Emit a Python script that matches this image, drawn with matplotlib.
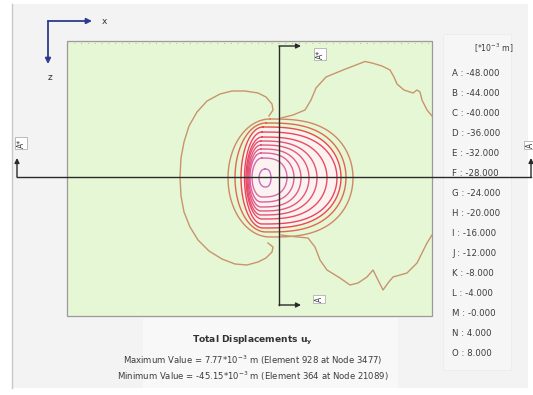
import numpy as np
import matplotlib
matplotlib.use("Agg")
import matplotlib.pyplot as plt
from matplotlib.patches import Rectangle, Polygon

# ---------------------------------------------------------------- data
legend_letters = list("ABCDEFGHIJKLMNO")
legend_values = [-48.0, -44.0, -40.0, -36.0, -32.0, -28.0, -24.0, -20.0,
                 -16.0, -12.0, -8.0, -4.0, -0.0, 4.0, 8.0]

# closed displacement contours around the loaded zone (levels B..L, 1e-3 m)
ring_levels = [-44, -40, -36, -32, -28, -24, -20, -16, -12, -8, -4]
ring_left   = [259, 252, 250, 249, 248, 247, 246, 244.5, 241, 235, 228]
ring_right  = [271, 287, 294, 301, 309, 317, 327, 337, 341, 346, 353]
ring_top    = [169, 158, 153, 149, 145, 141, 137, 132, 127, 123, 119]
ring_bottom = [187, 197, 202, 207, 211, 215, 219, 224, 228, 232, 237]
ring_xpeak  = [265, 262, 261, 261, 261, 261, 262, 262, 263, 266, 270]
ring_colors = ['#c060b8', '#d35a9e', '#da5090', '#de4a80', '#e14672',
               '#e34064', '#e53a56', '#e6344a', '#e8383a', '#de5a42', '#d07a58']

# zero-displacement contour (level M), left lobe
zero_left_x = [269, 273, 272, 266, 258, 245, 232, 220, 207, 197, 189, 184,
               181, 180, 181, 184, 190, 198, 209, 222, 235, 247, 258, 266,
               272, 273, 268]
zero_left_z = [116, 110, 104, 97, 93, 91, 91, 94, 101, 112, 126, 142,
               158, 177, 196, 212, 227, 240, 251, 259, 264, 265, 262, 258,
               252, 247, 243]
# level M, upper right branch
zero_upper_x = [281, 293, 305, 311, 316, 326, 343, 356, 365, 372, 382, 390,
                394, 397, 404, 413, 417, 420, 422, 427, 432]
zero_upper_z = [118, 115, 110, 100, 88, 77, 70, 65, 61.5, 63, 66, 70,
                77, 84, 90, 93, 90, 92, 100, 110, 116]
# level M, lower right branch
zero_lower_x = [281, 293, 308, 315, 320, 327, 340, 350, 358, 367, 373, 378,
                383, 388, 393, 407, 417, 422, 427, 432]
zero_lower_z = [235, 236.5, 238, 247, 260, 270, 278, 285, 283, 277, 270, 280,
                290, 283, 277, 273, 263, 253, 243, 235]

# ---------------------------------------------------------------- figure
W, H = 533, 395
fig = plt.figure(figsize=(W / 100, H / 100), dpi=100)
fig.patch.set_facecolor('white')
ax = fig.add_axes([0, 0, 1, 1])
ax.set_xlim(0, W)
ax.set_ylim(H, 0)
ax.axis('off')

FONT = 'DejaVu Sans'
TXT = '#3c3c3c'

# window panel
ax.add_patch(Rectangle((12, 4), 516, 384, facecolor='#f3f3f3',
                       edgecolor='none', zorder=0))
ax.plot([12, 12], [4, 388], color='#c8c8c8', lw=1.0, zorder=1)
ax.add_patch(Rectangle((143, 318), 255, 70, facecolor='#f8f8f8',
                       edgecolor='none', zorder=1))
ax.add_patch(Rectangle((443, 34), 68, 336, facecolor='#f6f6f6',
                       edgecolor='#ebebeb', lw=0.5, zorder=1))

# model area
gx0, gy0, gx1, gy1 = 67, 41, 432, 316
ax.add_patch(Rectangle((gx0, gy0), gx1 - gx0, gy1 - gy0,
                       facecolor='#e6f7d6', edgecolor='#9a9a9a', lw=0.9,
                       zorder=2))
ax.plot([gx0, gx1], [gy0 + 1.5, gy0 + 1.5], color='#b4b4b4', lw=0.7,
        ls=(0, (1, 6)), zorder=2)


def egg(xpeak, cy, left, right, ry, n=120):
    t = np.linspace(-np.pi / 2, np.pi / 2, n)
    c = np.cos(t)
    xr = xpeak + (right - xpeak) * np.sign(c) * np.abs(c) ** 0.7
    yr = cy + ry * np.sin(t)
    t2 = np.linspace(np.pi / 2, 3 * np.pi / 2, n)
    xl = xpeak + (xpeak - left) * np.cos(t2)
    yl = cy + ry * np.sin(t2)
    return np.r_[xr, xl], np.r_[yr, yl]


# pale interior of the strongly displaced zone
i_in = ring_levels.index(-12)
ex, ey = egg(ring_xpeak[i_in], (ring_top[i_in] + ring_bottom[i_in]) / 2,
             ring_left[i_in], ring_right[i_in],
             (ring_bottom[i_in] - ring_top[i_in]) / 2)
ax.add_patch(Polygon(np.c_[ex, ey], closed=True, facecolor='#fcf3f1',
                     edgecolor='none', zorder=3))

for lev, l, r, t, b, xp, col in zip(ring_levels, ring_left, ring_right,
                                    ring_top, ring_bottom, ring_xpeak,
                                    ring_colors):
    ex, ey = egg(xp, (t + b) / 2, l, r, (b - t) / 2)
    ax.plot(ex, ey, color=col, lw=1.0, alpha=0.9, zorder=4,
            solid_joinstyle='round')

for xs, zs in [(zero_left_x, zero_left_z), (zero_upper_x, zero_upper_z),
               (zero_lower_x, zero_lower_z)]:
    ax.plot(xs, zs, color='#c8946c', lw=1.0, zorder=4)

# cross sections
line_col = '#2a2a2a'
ax.plot([279, 279], [46, 305], color=line_col, lw=1.0, zorder=6)
for yy in (46, 305):
    ax.annotate('', xy=(301, yy), xytext=(279, yy),
                arrowprops=dict(arrowstyle='-|>', color=line_col, lw=1.0,
                                mutation_scale=7, shrinkA=0, shrinkB=0),
                zorder=6)
ax.plot([17, 531], [177, 177], color=line_col, lw=1.0, zorder=6)
for xx in (17, 531):
    ax.annotate('', xy=(xx, 158), xytext=(xx, 177),
                arrowprops=dict(arrowstyle='-|>', color=line_col, lw=1.0,
                                mutation_scale=7, shrinkA=0, shrinkB=0),
                zorder=6)

box = dict(boxstyle='square,pad=0.2', facecolor='white',
           edgecolor='#b0b0b0', lw=0.6)
for (xx, yy, s) in [(320, 54, 'A*'), (319, 299, 'A'), (21, 143, 'A*'),
                    (530, 145, 'A')]:
    ax.text(xx, yy, s, rotation=90, fontsize=5.5, family=FONT, color='#333333',
            ha='center', va='center', bbox=box, zorder=7)

# axis triad
tri = '#2e3a8c'
ax.annotate('', xy=(92, 21), xytext=(48, 21),
            arrowprops=dict(arrowstyle='-|>', color=tri, lw=1.3,
                            mutation_scale=8, shrinkA=0, shrinkB=0))
ax.annotate('', xy=(48, 64), xytext=(48, 21),
            arrowprops=dict(arrowstyle='-|>', color=tri, lw=1.3,
                            mutation_scale=8, shrinkA=0, shrinkB=0))
ax.text(104, 22, 'x', fontsize=6.5, family=FONT, color='#333333',
        ha='center', va='center')
ax.text(50, 78, 'z', fontsize=6.5, family=FONT, color='#333333',
        ha='center', va='center')

# legend
ax.text(494, 48, r'[*10$^{-3}$ m]', fontsize=5.6, family=FONT,
        color=TXT, ha='center', va='center')
for k, (let, val) in enumerate(zip(legend_letters, legend_values)):
    ax.text(452, 73 + 20 * k, f'{let} : {val:.3f}', fontsize=6.2,
            family=FONT, color=TXT, ha='left', va='center')

# caption
ax.text(252, 340, r'Total Displacements u$_\mathbf{y}$', fontsize=6.6,
        family=FONT, weight='bold', color='#333333', ha='center',
        va='center')
ax.text(253, 360,
        r'Maximum Value = 7.77*10$^{-3}$ m (Element 928 at Node 3477)',
        fontsize=6.1, family=FONT, color=TXT, ha='center',
        va='center')
ax.text(253, 376,
        r'Minimum Value = -45.15*10$^{-3}$ m (Element 364 at Node 21089)',
        fontsize=6.1, family=FONT, color=TXT, ha='center',
        va='center')

fig.savefig('out.png', dpi=100, facecolor='white')
